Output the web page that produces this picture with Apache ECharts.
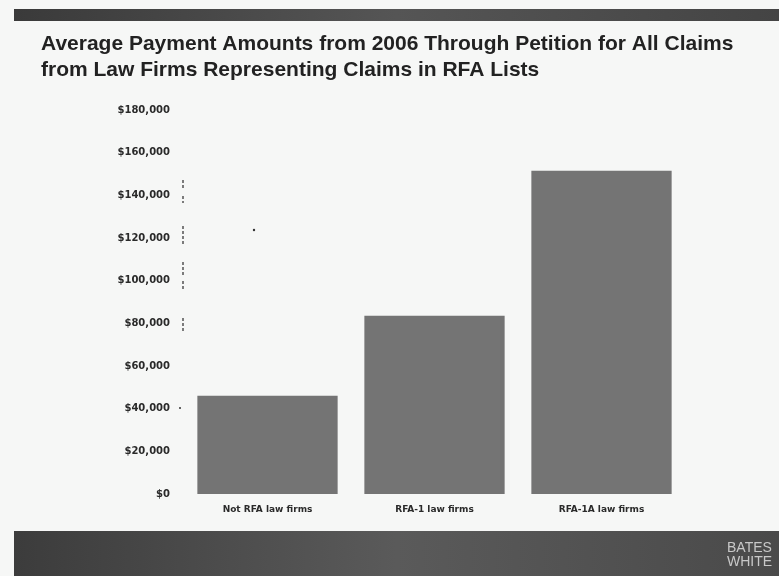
<!DOCTYPE html>
<html>
<head>
<meta charset="utf-8">
<script src="https://cdn.jsdelivr.net/npm/echarts@6/dist/echarts.min.js"></script>
<style>
  html, body { margin: 0; padding: 0; background: #f6f7f6; }
  #chart { width: 779px; height: 576px; }
</style>
</head>
<body>
<div id="chart"></div>
<script>
// Firm groups and their average payment amounts (USD)
const categories = ['Not RFA law firms', 'RFA-1 law firms', 'RFA-1A law firms'];
const avgPayment = [46000, 83500, 151500];
// Value-axis tick range
const axisMin = 0;
const axisMax = 180000;
const axisStep = 20000;

const titleLines = [
  'Average Payment Amounts from 2006 Through Petition for All Claims',
  'from Law Firms Representing Claims in RFA Lists'
];

const chart = echarts.init(document.getElementById('chart'), null, { renderer: 'canvas' });

const fmtDollar = v => '$' + v.toLocaleString('en-US');

// short vertical tick fragments left of the plot area
const stubs = [[180, 190], [196, 203], [226, 246], [262, 276], [281, 289], [318, 332]];
const stubGraphics = stubs.map(([y1, y2]) => ({
  type: 'line',
  shape: { x1: 183, y1: y1, x2: 183, y2: y2 },
  style: { stroke: '#3a3a3a', lineWidth: 1.3, lineDash: [3, 2] },
  silent: true
}));

chart.setOption({
  backgroundColor: '#f6f7f6',
  animation: false,
  title: {
    text: titleLines.join('\n'),
    left: 36,
    top: 26,
    textStyle: {
      fontFamily: 'Liberation Sans, Arial, sans-serif',
      fontSize: 21,
      fontWeight: 'bold',
      color: '#222',
      lineHeight: 26
    }
  },
  grid: { left: 184, right: 94, top: 110, bottom: 82 },
  xAxis: {
    type: 'category',
    data: categories,
    axisLine: { show: false },
    axisTick: { show: false },
    axisLabel: {
      margin: 11,
      fontFamily: 'DejaVu Sans, sans-serif',
      fontSize: 9,
      fontWeight: 'bold',
      color: '#2a2a2a'
    }
  },
  yAxis: {
    type: 'value',
    min: axisMin,
    max: axisMax,
    interval: axisStep,
    axisLine: { show: false },
    axisTick: { show: false },
    splitLine: { show: false },
    axisLabel: {
      margin: 14,
      formatter: fmtDollar,
      fontFamily: 'DejaVu Sans, sans-serif',
      fontSize: 10,
      fontWeight: 'bold',
      color: '#2a2a2a'
    }
  },
  series: [{
    type: 'bar',
    data: avgPayment,
    barCategoryGap: '16%',
    itemStyle: { color: '#747474' }
  }],
  graphic: [
    // dark header strip
    {
      type: 'rect',
      shape: { x: 14, y: 9, width: 765, height: 12 },
      style: {
        fill: new echarts.graphic.LinearGradient(0, 0, 1, 0, [
          { offset: 0, color: '#3a3a3a' },
          { offset: 0.5, color: '#555' },
          { offset: 1, color: '#444' }
        ])
      },
      silent: true
    },
    // dark footer band
    {
      type: 'rect',
      shape: { x: 14, y: 531, width: 765, height: 45 },
      style: {
        fill: new echarts.graphic.LinearGradient(0, 0, 1, 0, [
          { offset: 0, color: '#3c3c3c' },
          { offset: 0.5, color: '#5a5a5a' },
          { offset: 1, color: '#4a4a4a' }
        ])
      },
      silent: true
    },
    {
      type: 'text',
      left: 727,
      top: 541,
      style: {
        text: 'BATES\nWHITE',
        fill: '#c8c8c8',
        font: '14px "Liberation Sans Narrow", "Liberation Sans", sans-serif',
        lineHeight: 14
      },
      silent: true
    },
    // stray marks near the axis
    { type: 'circle', shape: { cx: 180, cy: 408, r: 1 }, style: { fill: '#333' }, silent: true },
    { type: 'circle', shape: { cx: 254, cy: 230, r: 1.2 }, style: { fill: '#333' }, silent: true }
  ].concat(stubGraphics)
});
</script>
</body>
</html>
